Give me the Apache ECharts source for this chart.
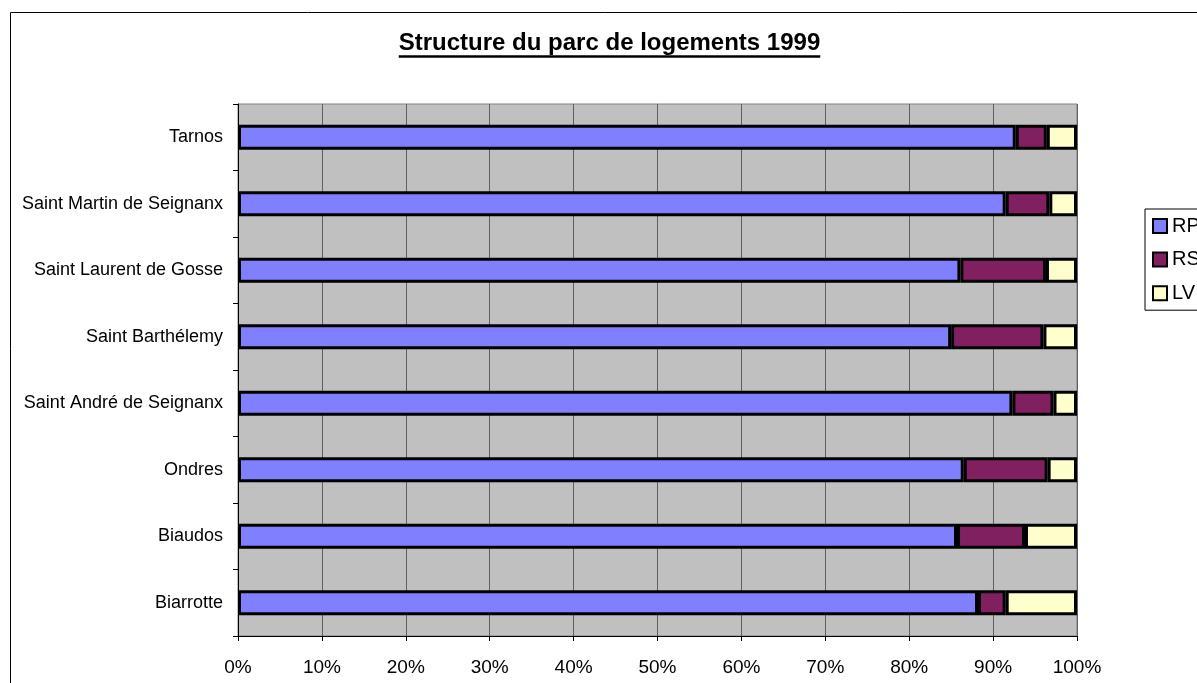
<!DOCTYPE html>
<html>
<head>
<meta charset="utf-8">
<script src="https://cdn.jsdelivr.net/npm/echarts@6/dist/echarts.min.js"></script>
<style>
html,body{margin:0;padding:0;background:#fff;}
#chart{width:1197px;height:683px;}
</style>
</head>
<body>
<div id="chart"></div>
<script>
var titleText = 'Structure du parc de logements 1999';
var categories = ['Biarrotte', 'Biaudos', 'Ondres', 'Saint André de Seignanx', 'Saint Barthélemy', 'Saint Laurent de Gosse', 'Saint Martin de Seignanx', 'Tarnos'];
var seriesNames = ['RP', 'RS', 'LV'];
var rpValues = [88.2, 85.7, 86.5, 92.3, 85.0, 86.1, 91.5, 92.7];
var rsValues = [3.3, 8.1, 10.0, 4.9, 11.0, 10.2, 5.2, 3.7];
var lvValues = [8.5, 6.2, 3.5, 2.8, 4.0, 3.7, 3.3, 3.6];
var xTicks = [0, 10, 20, 30, 40, 50, 60, 70, 80, 90, 100];

var FONT = '"Liberation Sans", Arial, sans-serif';
var colors = ['#8080FF', '#802060', '#FFFFCC'];

var titleSize = 24;
var cv = document.createElement('canvas').getContext('2d');
cv.font = 'bold ' + titleSize + 'px ' + FONT;
var tw = cv.measureText(titleText).width;
var tcx = 609.5;

var chart = echarts.init(document.getElementById('chart'));
function mk(name, data, i) {
  return {
    name: name, type: 'bar', stack: 'total', data: data,
    barWidth: 25,
    itemStyle: { color: colors[i], borderColor: '#000', borderWidth: 3 },
    emphasis: { disabled: true }, animation: false
  };
}
chart.setOption({
  animation: false,
  textStyle: { fontFamily: FONT },
  graphic: [
    { type: 'rect', shape: { x: 10.5, y: 12.5, width: 1400, height: 1000 }, style: { fill: 'none', stroke: '#000', lineWidth: 1 }, silent: true, z: -10 },
    { type: 'text', x: tcx, y: 31, style: { text: titleText, font: 'bold ' + titleSize + 'px ' + FONT, fill: '#000', align: 'center', verticalAlign: 'top' } },
    { type: 'line', shape: { x1: tcx - tw / 2, y1: 56.5, x2: tcx + tw / 2, y2: 56.5 }, style: { stroke: '#000', lineWidth: 2.5 } }
  ],
  legend: {
    orient: 'vertical', left: 1145, top: 209,
    padding: [7, 7, 7, 7], itemGap: 13.6, itemWidth: 14, itemHeight: 14,
    borderColor: '#000', borderWidth: 1, backgroundColor: '#fff',
    data: seriesNames, icon: 'rect',
    itemStyle: { borderColor: '#000', borderWidth: 2 },
    textStyle: { fontSize: 20, color: '#000', fontFamily: FONT, padding: [0, 0, 0, 0] },
    selectedMode: false
  },
  grid: {
    left: 238, right: 120, top: 104, bottom: 47,
    show: true, backgroundColor: '#C0C0C0', borderColor: '#808080', borderWidth: 1
  },
  xAxis: {
    type: 'value', min: 0, max: 100, interval: 10,
    axisLine: { show: true, lineStyle: { color: '#000', width: 1 } },
    axisTick: { show: true, length: 5, lineStyle: { color: '#000' } },
    axisLabel: { formatter: '{value}%', fontSize: 19, color: '#000', margin: 22, fontFamily: FONT },
    splitLine: { show: true, lineStyle: { color: '#606060', width: 1 } }
  },
  yAxis: {
    type: 'category', data: categories,
    axisLine: { show: true, lineStyle: { color: '#000', width: 1 } },
    axisTick: { show: true, length: 5, lineStyle: { color: '#000' } },
    axisLabel: { fontSize: 18, color: '#000', margin: 15, fontFamily: FONT },
    splitLine: { show: false }
  },
  series: [mk('RP', rpValues, 0), mk('RS', rsValues, 1), mk('LV', lvValues, 2)]
});
</script>
</body>
</html>
